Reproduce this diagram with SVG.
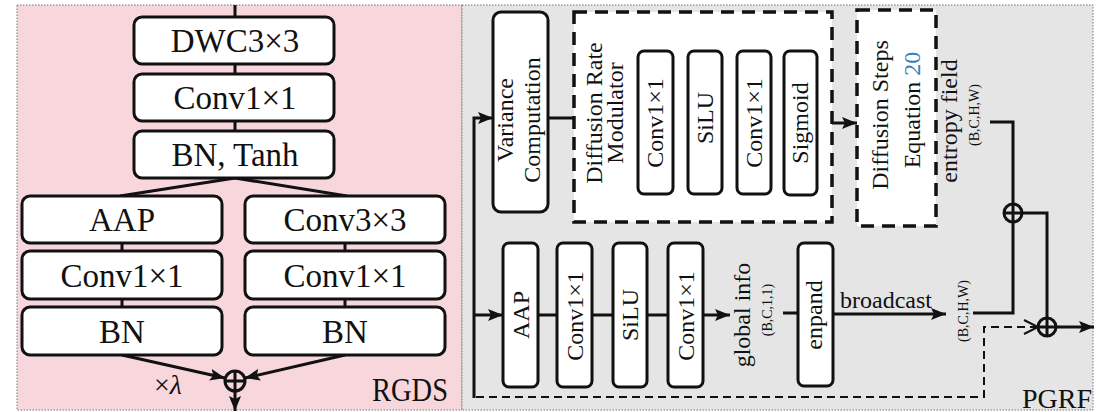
<svg xmlns="http://www.w3.org/2000/svg" width="1101" height="412" viewBox="0 0 1101 412">
<defs>
<style>
.t{font-family:'Liberation Serif','Times New Roman',Times,'DejaVu Serif',serif;fill:#111;}
.L{font-size:33px;text-anchor:middle;}
.box{fill:#fff;stroke:#111;stroke-width:3;}
.dbox{fill:#fff;stroke:#111;stroke-width:3.5;stroke-dasharray:13 8;}
.ln{fill:none;stroke:#111;stroke-width:3;}
.dl{fill:none;stroke:#111;stroke-width:2;stroke-dasharray:8 5;}
.panel{stroke:#777;stroke-width:1;stroke-dasharray:1.5 1.5;}
.c{fill:none;stroke:#111;stroke-width:3;}
</style>
<marker id="arr" markerUnits="userSpaceOnUse" markerWidth="16" markerHeight="12" refX="15" refY="6" orient="auto"><path d="M0,0 L15,6 L0,12 L3,6 z" fill="#111"/></marker>
<marker id="chev" markerUnits="userSpaceOnUse" markerWidth="18" markerHeight="16" refX="15" refY="8" orient="auto"><path d="M1,1 L15,8 L1,15" fill="none" stroke="#111" stroke-width="2"/></marker>
</defs>
<rect class="panel" x="17" y="5" width="445" height="405" fill="#f8d7dc"/>
<rect class="panel" x="462" y="5" width="631" height="405" fill="#e5e5e5"/>

<g id="connectors">
<path class="ln" d="M235,5 V17 M235,64 V74 M235,121 V131 M235,178 L120,196 M235,178 L347,196 M122,243 V251 M122,299 V307 M345,243 V251 M345,299 V307"/>
<path class="ln" d="M122,355 L225,378" marker-end="url(#arr)"/>
<path class="ln" d="M345,355 L245,378" marker-end="url(#arr)"/>
<path class="ln" d="M235,391 V411" marker-end="url(#arr)"/>
<path class="ln" d="M474,398 V118 H493" marker-end="url(#arr)"/>
<path class="ln" d="M474,315 H503" marker-end="url(#arr)"/>
<path class="dl" d="M476,397 H984 V327 H1038" marker-end="url(#chev)"/>
<path class="ln" d="M548,118 H574 M673,123 H688 M722,123 H737 M771,123 H784"/>
<path class="ln" d="M817,123 H857" marker-end="url(#arr)"/>
<path class="ln" d="M538,315 H557 M592,315 H613 M647,315 H668"/>
<path class="ln" d="M703,315 H730" marker-end="url(#arr)"/>
<path class="ln" d="M783,313 H798"/>
<path class="ln" d="M833,314 H946" marker-end="url(#arr)"/>
<path class="ln" d="M990,122 H1013 V204 M973,313 H1013 V222 M1022,213 H1047 V318"/>
<path class="ln" d="M1056,327 H1094" marker-end="url(#arr)"/>
</g>

<g id="rgds">
<g id="dwc"><rect class="box" x="134" y="17" width="200" height="47" rx="8"/><text class="t L" x="235" y="52">DWC3×3</text></g>
<g id="conv1a"><rect class="box" x="134" y="74" width="200" height="47" rx="8"/><text class="t L" x="235" y="109">Conv1×1</text></g>
<g id="bntanh"><rect class="box" x="134" y="131" width="200" height="47" rx="8"/><text class="t L" x="235" y="166">BN, Tanh</text></g>
<g id="aapL"><rect class="box" x="22" y="196" width="200" height="47" rx="8"/><text class="t L" x="122" y="231">AAP</text></g>
<g id="conv1L"><rect class="box" x="22" y="251" width="200" height="48" rx="8"/><text class="t L" x="122" y="287">Conv1×1</text></g>
<g id="bnL"><rect class="box" x="22" y="307" width="200" height="48" rx="8"/><text class="t L" x="122" y="343">BN</text></g>
<g id="conv3R"><rect class="box" x="245" y="196" width="200" height="47" rx="8"/><text class="t L" x="345" y="231">Conv3×3</text></g>
<g id="conv1R"><rect class="box" x="245" y="251" width="200" height="48" rx="8"/><text class="t L" x="345" y="287">Conv1×1</text></g>
<g id="bnR"><rect class="box" x="245" y="307" width="200" height="48" rx="8"/><text class="t L" x="345" y="343">BN</text></g>
<g id="sumL"><circle class="c" cx="235" cy="381" r="10"/><path class="ln" d="M225,381 H245 M235,371 V391"/></g>
<text class="t" x="154" y="394" font-size="28">×<tspan font-style="italic">λ</tspan></text>
<text class="t" x="448" y="401" font-size="34" text-anchor="end" textLength="76" lengthAdjust="spacingAndGlyphs">RGDS</text>
</g>

<g id="pgrf">
<g id="variance"><rect class="box" x="493" y="12" width="55" height="200" rx="8"/>
<text class="t" font-size="24" text-anchor="middle" transform="translate(520,120) rotate(-90)"><tspan x="0" y="-7">Variance</tspan><tspan x="0" y="20">Computation</tspan></text></g>
<g id="drm"><rect class="dbox" x="574" y="12" width="258" height="210"/>
<text class="t" font-size="24" text-anchor="middle" transform="translate(600,113) rotate(-90)"><tspan x="0" y="2">Diffusion Rate</tspan><tspan x="0" y="23">Modulator</tspan></text></g>
<g id="m1"><rect class="box" x="638" y="51" width="35" height="143" rx="6"/><text class="t" font-size="24" text-anchor="middle" transform="translate(663,123) rotate(-90)">Conv1×1</text></g>
<g id="m2"><rect class="box" x="688" y="51" width="34" height="143" rx="6"/><text class="t" font-size="24" text-anchor="middle" transform="translate(713,118) rotate(-90)">SiLU</text></g>
<g id="m3"><rect class="box" x="737" y="51" width="34" height="143" rx="6"/><text class="t" font-size="24" text-anchor="middle" transform="translate(762,123) rotate(-90)">Conv1×1</text></g>
<g id="m4"><rect class="box" x="784" y="51" width="33" height="144" rx="6"/><text class="t" font-size="24" text-anchor="middle" transform="translate(808,123) rotate(-90)">Sigmoid</text></g>
<g id="dsteps"><rect class="dbox" x="857" y="10" width="79" height="216"/>
<text class="t" font-size="24" text-anchor="middle" transform="translate(888,115) rotate(-90)">Diffusion Steps</text>
<text class="t" font-size="24" text-anchor="middle" transform="translate(920,110) rotate(-90)">Equation <tspan fill="#2f7fc1">20</tspan></text></g>
<text class="t" font-size="24" text-anchor="middle" transform="translate(957,121) rotate(-90)">entropy field</text>
<text class="t" font-size="14" text-anchor="middle" transform="translate(979,115) rotate(-90)">(B,C,H,W)</text>
<g id="b1"><rect class="box" x="503" y="243" width="35" height="144" rx="6"/><text class="t" font-size="24" text-anchor="middle" transform="translate(529,315) rotate(-90)">AAP</text></g>
<g id="b2"><rect class="box" x="557" y="243" width="35" height="144" rx="6"/><text class="t" font-size="24" text-anchor="middle" transform="translate(583,316) rotate(-90)">Conv1×1</text></g>
<g id="b3"><rect class="box" x="613" y="243" width="34" height="144" rx="6"/><text class="t" font-size="24" text-anchor="middle" transform="translate(638,315) rotate(-90)">SiLU</text></g>
<g id="b4"><rect class="box" x="668" y="243" width="35" height="144" rx="6"/><text class="t" font-size="24" text-anchor="middle" transform="translate(694,316) rotate(-90)">Conv1×1</text></g>
<text class="t" font-size="24" text-anchor="middle" transform="translate(750,315) rotate(-90)">global info</text>
<text class="t" font-size="14" text-anchor="middle" transform="translate(772,310) rotate(-90)">(B,C,1,1)</text>
<g id="enpand"><rect class="box" x="798" y="243" width="35" height="143" rx="6"/><text class="t" font-size="24" text-anchor="middle" transform="translate(822,315) rotate(-90)">enpand</text></g>
<text class="t" x="886" y="308" font-size="24" text-anchor="middle">broadcast</text>
<text class="t" font-size="14" text-anchor="middle" transform="translate(968,311) rotate(-90)">(B,C,H,W)</text>
<g id="sum1"><circle class="c" cx="1013" cy="213" r="9"/><path class="ln" d="M1004,213 H1022 M1013,204 V222"/></g>
<g id="sum2"><circle class="c" cx="1047" cy="327" r="9"/><path class="ln" d="M1038,327 H1056 M1047,318 V336"/></g>
<text class="t" x="1092" y="408" font-size="28" text-anchor="end">PGRF</text>
</g>
</svg>
